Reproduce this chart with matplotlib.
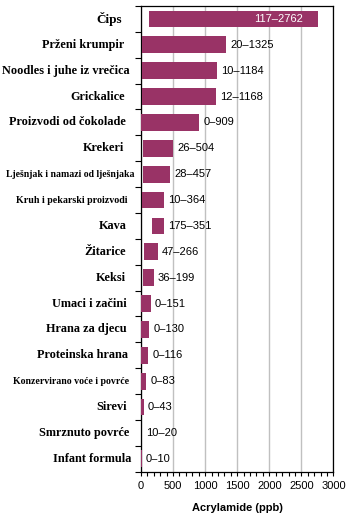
import matplotlib
matplotlib.use("Agg")
import matplotlib.pyplot as plt
from matplotlib.ticker import MultipleLocator, FixedLocator, NullFormatter

categories = ["Čips", "Prženi krumpir", "Noodles i juhe iz vrečica", "Grickalice",
              "Proizvodi od čokolade", "Krekeri", "Lješnjak i namazi od lješnjaka",
              "Kruh i pekarski proizvodi", "Kava", "Žitarice", "Keksi", "Umaci i začini",
              "Hrana za djecu", "Proteinska hrana", "Konzervirano voće i povrće",
              "Sirevi", "Smrznuto povrće", "Infant formula"]
min_vals = [117, 20, 10, 12, 0, 26, 28, 10, 175, 47, 36, 0, 0, 0, 0, 0, 10, 0]
max_vals = [2762, 1325, 1184, 1168, 909, 504, 457, 364, 351, 266, 199, 151, 130, 116, 83, 43, 20, 10]
label_sizes = [9.5, 8.8, 8.8, 8.8, 8.8, 8.8, 7.0, 7.2, 8.8, 8.8, 8.8, 8.8, 8.8, 8.8, 7.1, 8.8, 8.8, 8.8]
label_right_px = [122, 124, 130, 125, 126, 124.5, 135, 127, 127, 126, 126, 127, 127, 128, 129, 127, 129.5, 131]

W, H = 354, 521
fig = plt.figure(figsize=(W / 100, H / 100), dpi=100)
ax_left_px = 141
ax = fig.add_axes([ax_left_px / W, 0.0946, 0.5436, 0.8939])

color = "#993366"
ys = list(range(len(categories)))
widths = [mx - mn for mn, mx in zip(min_vals, max_vals)]
ax.barh(ys, widths, left=min_vals, height=0.65, color=color, zorder=3)

for i, (mn, mx) in enumerate(zip(min_vals, max_vals)):
    txt = f"{mn}–{mx}"
    if i == 0:
        ax.annotate(txt, (mx, i), xytext=(-11, 0), textcoords="offset points",
                    ha="right", va="center", color="white", fontsize=8,
                    family="Liberation Sans", zorder=4)
    else:
        ax.annotate(txt, (mx, i), xytext=(3, 0), textcoords="offset points",
                    ha="left", va="center", color="black", fontsize=8,
                    family="Liberation Sans", zorder=4)

# category labels
for i, (cat, s, rpx) in enumerate(zip(categories, label_sizes, label_right_px)):
    off_pt = (rpx - ax_left_px) * 72 / 100
    ax.annotate(cat, (0, i), xycoords=("axes fraction", "data"),
                xytext=(off_pt, 0), textcoords="offset points",
                ha="right", va="center", fontsize=s, fontweight="bold",
                family="Liberation Serif", annotation_clip=False)

ax.set_xlim(0, 3000)
ax.set_ylim(len(categories) - 0.5, -0.5)

ax.xaxis.set_major_locator(MultipleLocator(500))
ax.xaxis.set_minor_locator(MultipleLocator(100))
ax.grid(axis="x", which="major", color="#c0c0c0", linewidth=1.0, zorder=0)
ax.tick_params(axis="x", which="both", direction="out", length=3, width=0.8,
               labelsize=8, pad=4)
for lbl in ax.get_xticklabels():
    lbl.set_family("Liberation Sans")

ax.set_yticks([])
ax.yaxis.set_minor_locator(FixedLocator([i - 0.5 for i in range(len(categories) + 1)]))
ax.yaxis.set_minor_formatter(NullFormatter())
ax.tick_params(axis="y", which="minor", direction="out", length=4, width=0.8)

for sp in ax.spines.values():
    sp.set_color("black")
    sp.set_linewidth(0.9)

ax.set_xlabel("Acrylamide (ppb)", fontsize=8, fontweight="bold",
              family="Liberation Sans", labelpad=8)

fig.savefig("out.png", dpi=100)
